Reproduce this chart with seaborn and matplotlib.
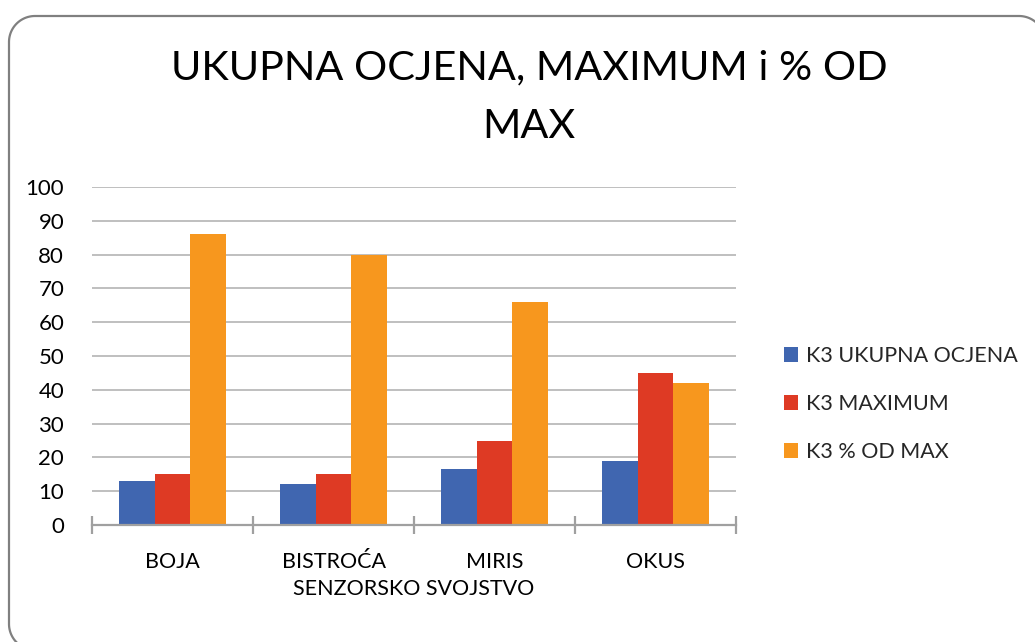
import matplotlib
matplotlib.use("Agg")
import matplotlib.pyplot as plt
import matplotlib.patches as mpatches
from matplotlib.lines import Line2D
from matplotlib.ticker import FixedLocator
import seaborn as sns
import pandas as pd
import numpy as np

categories = ["BOJA", "BISTROĆA", "MIRIS", "OKUS"]
series_names = ["K3 UKUPNA OCJENA", "K3 MAXIMUM", "K3 % OD MAX"]
ukupna = [12.9, 12.0, 16.5, 18.9]
maximum = [15, 15, 25, 45]
pct_max = [86, 80, 66, 42]
colors = ["#4066B0", "#DE3A24", "#F7971E"]
title = "UKUPNA OCJENA, MAXIMUM i % OD\nMAX"
x_title = "SENZORSKO SVOJSTVO"

rows = []
for name, vals in zip(series_names, [ukupna, maximum, pct_max]):
    for c, v in zip(categories, vals):
        rows.append({"cat": c, "series": name, "value": v})
df = pd.DataFrame(rows)

sns.set_theme(style="white")
plt.rcParams["font.family"] = ["Lato", "DejaVu Sans"]

W, H = 1035, 642
fig = plt.figure(figsize=(W/100, H/100), dpi=100)
ax = fig.add_axes([92/W, 1-525/H, (736-92)/W, (525-187)/H])

sns.barplot(data=df, x="cat", y="value", hue="series", order=categories,
            hue_order=series_names, palette=colors, width=0.67, saturation=1,
            ax=ax, legend=False, edgecolor="none", linewidth=0)

ax.set_ylim(0, 100)
ax.set_xlim(-0.5, 3.5)
ax.set_yticks(range(0, 101, 10))
ax.yaxis.grid(True, color="#BFBFBF", linewidth=1.4)
ax.set_axisbelow(True)
for s in ["left", "right", "top"]:
    ax.spines[s].set_visible(False)
ax.spines["bottom"].set_color("#A0A0A0")
ax.spines["bottom"].set_linewidth(1.6)
ax.tick_params(axis="y", length=0, labelsize=16, pad=20, labelcolor="black")

ax.set_xticks([i for i in range(4)])
ax.set_xticklabels(categories)
ax.xaxis.set_minor_locator(FixedLocator([-0.5, 0.5, 1.5, 2.5, 3.5]))
ax.tick_params(axis="x", which="major", length=9, direction="inout", width=1.6,
               color="#A0A0A0", labelsize=15.5, pad=15, labelcolor="black")
ax.tick_params(axis="x", which="minor", length=13, direction="inout", width=1.6,
               color="#A0A0A0", bottom=True)
ax.set_xlabel(x_title, fontsize=15.5, labelpad=5, color="black")
ax.set_ylabel("")

fig.text(529/W, 1-97/H, title, ha="center", va="center",
         fontsize=29.8, linespacing=1.72, color="black")

handles = [mpatches.Patch(facecolor=c, edgecolor="none") for c in colors]
fig.legend(handles, series_names, loc="center left",
           bbox_to_anchor=(773/W, 1-404/H), frameon=False,
           fontsize=15.5, handlelength=0.65, handleheight=0.65,
           handletextpad=0.4, labelspacing=1.3, borderpad=0)

# rounded chart-area border (decoration), in pixel coordinates
r = 26
left, right, top, bottom = 9, 1045, H - 16, -8
t = np.linspace(0, np.pi / 2, 24)
xs, ys = [], []
xs += list(left + r - r * np.sin(t)); ys += list(bottom + r - r * np.cos(t))
xs += list(left + r - r * np.cos(t)); ys += list(top - r + r * np.sin(t))
xs += list(right - r + r * np.sin(t)); ys += list(top - r + r * np.cos(t))
xs += [right]; ys += [bottom]
fig.add_artist(Line2D(np.array(xs) / W, np.array(ys) / H, transform=fig.transFigure,
                      color="#808080", linewidth=1.6, solid_joinstyle="round"))

fig.savefig("out.png", dpi=100)
